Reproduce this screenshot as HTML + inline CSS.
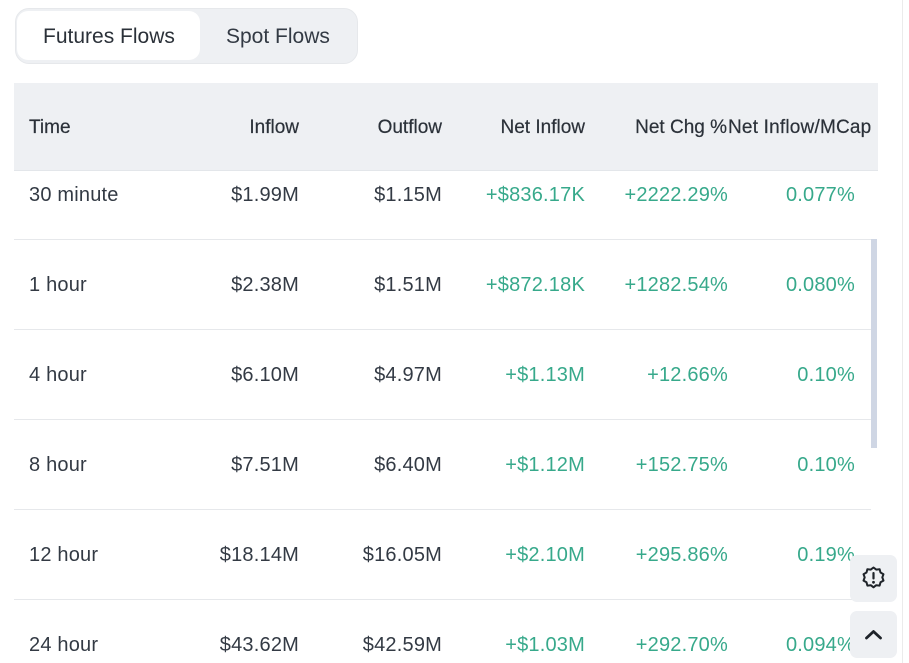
<!DOCTYPE html>
<html>
<head>
<meta charset="utf-8">
<style>
html,body{margin:0;padding:0;}
body{width:909px;height:663px;overflow:hidden;background:#fff;position:relative;font-family:"Liberation Sans",Arial,sans-serif;}
.abs{position:absolute;white-space:nowrap;}
.tabs{left:15px;top:8px;width:343px;height:56px;background:#eef0f3;border-radius:14px;box-sizing:border-box;border:1px solid #e6e8eb;}
.tab-on{left:17px;top:11px;width:183px;height:49px;background:#fff;border-radius:11px;}
.tabtxt{font-size:21px;color:#2b3139;line-height:24px;top:25px;}
.head{left:14px;top:83px;width:864px;height:88px;background:#eef0f3;border-bottom:1px solid #e3e6ea;box-sizing:border-box;}
.h{font-size:19px;color:#2b3139;line-height:22px;top:117px;-webkit-text-stroke:0.2px #2b3139;}
.sep{left:14px;width:857px;height:1px;background:#e6e8eb;}
.c{font-size:20px;line-height:24px;color:#333a44;letter-spacing:0.2px;}
.g{color:#37a98b;}
.vline{left:902px;top:0;width:1px;height:663px;background:#ebebeb;}
.sb{left:871px;top:239px;width:6px;height:209px;background:#cfd6e4;}
.btn{left:850px;width:47px;height:47px;background:#eef0f3;border-radius:7px;}
</style>
</head>
<body>
<div class="abs vline"></div>

<div class="abs tabs"></div>
<div class="abs tab-on"></div>
<div class="abs tabtxt" style="left:43px;">Futures Flows</div>
<div class="abs tabtxt" style="left:226px;color:#333a44;">Spot Flows</div>

<div class="abs head"></div>
<div class="abs h" style="left:29px;">Time</div>
<div class="abs h" style="right:610px;">Inflow</div>
<div class="abs h" style="right:467px;">Outflow</div>
<div class="abs h" style="right:324px;">Net Inflow</div>
<div class="abs h" style="right:182px;">Net Chg %</div>
<div class="abs h" style="left:728px;letter-spacing:0.2px;">Net Inflow/MCap</div>

<div class="abs sep" style="top:239px;"></div>
<div class="abs sep" style="top:329px;"></div>
<div class="abs sep" style="top:419px;"></div>
<div class="abs sep" style="top:509px;"></div>
<div class="abs sep" style="top:599px;"></div>

<div class="abs sb"></div>

<!-- row 1 -->
<div class="abs c" style="left:29px;top:183px;">30 minute</div>
<div class="abs c" style="right:610px;top:183px;">$1.99M</div>
<div class="abs c" style="right:467px;top:183px;">$1.15M</div>
<div class="abs c g" style="right:324px;top:183px;">+$836.17K</div>
<div class="abs c g" style="right:181px;top:183px;">+2222.29%</div>
<div class="abs c g" style="right:54px;top:183px;">0.077%</div>
<!-- row 2 -->
<div class="abs c" style="left:29px;top:273px;">1 hour</div>
<div class="abs c" style="right:610px;top:273px;">$2.38M</div>
<div class="abs c" style="right:467px;top:273px;">$1.51M</div>
<div class="abs c g" style="right:324px;top:273px;">+$872.18K</div>
<div class="abs c g" style="right:181px;top:273px;">+1282.54%</div>
<div class="abs c g" style="right:54px;top:273px;">0.080%</div>
<!-- row 3 -->
<div class="abs c" style="left:29px;top:363px;">4 hour</div>
<div class="abs c" style="right:610px;top:363px;">$6.10M</div>
<div class="abs c" style="right:467px;top:363px;">$4.97M</div>
<div class="abs c g" style="right:324px;top:363px;">+$1.13M</div>
<div class="abs c g" style="right:181px;top:363px;">+12.66%</div>
<div class="abs c g" style="right:54px;top:363px;">0.10%</div>
<!-- row 4 -->
<div class="abs c" style="left:29px;top:453px;">8 hour</div>
<div class="abs c" style="right:610px;top:453px;">$7.51M</div>
<div class="abs c" style="right:467px;top:453px;">$6.40M</div>
<div class="abs c g" style="right:324px;top:453px;">+$1.12M</div>
<div class="abs c g" style="right:181px;top:453px;">+152.75%</div>
<div class="abs c g" style="right:54px;top:453px;">0.10%</div>
<!-- row 5 -->
<div class="abs c" style="left:29px;top:543px;">12 hour</div>
<div class="abs c" style="right:610px;top:543px;">$18.14M</div>
<div class="abs c" style="right:467px;top:543px;">$16.05M</div>
<div class="abs c g" style="right:324px;top:543px;">+$2.10M</div>
<div class="abs c g" style="right:181px;top:543px;">+295.86%</div>
<div class="abs c g" style="right:54px;top:543px;">0.19%</div>
<!-- row 6 -->
<div class="abs c" style="left:29px;top:633px;">24 hour</div>
<div class="abs c" style="right:610px;top:633px;">$43.62M</div>
<div class="abs c" style="right:467px;top:633px;">$42.59M</div>
<div class="abs c g" style="right:324px;top:633px;">+$1.03M</div>
<div class="abs c g" style="right:181px;top:633px;">+292.70%</div>
<div class="abs c g" style="right:54px;top:633px;">0.094%</div>

<!-- floating buttons -->
<div class="abs btn" style="top:555px;">
<svg width="47" height="47" viewBox="0 0 47 47">
<path d="M23.5 12.5 L26.2 14.6 L29.6 14.2 L30.5 17.5 L33.5 19.2 L32.3 22.4 L33.5 25.6 L30.5 27.3 L29.6 30.6 L26.2 30.2 L23.5 32.3 L20.8 30.2 L17.4 30.6 L16.5 27.3 L13.5 25.6 L14.7 22.4 L13.5 19.2 L16.5 17.5 L17.4 14.2 L20.8 14.6 Z" fill="none" stroke="#1e2329" stroke-width="2" stroke-linejoin="round"/>
<rect x="22.4" y="17" width="2.2" height="7.5" rx="1" fill="#1e2329"/>
<circle cx="23.5" cy="27.3" r="1.4" fill="#1e2329"/>
</svg>
</div>
<div class="abs btn" style="top:611px;">
<svg width="47" height="47" viewBox="0 0 47 47">
<polyline points="16.5,27 23.5,20.5 30.5,27" fill="none" stroke="#1e2329" stroke-width="2.8" stroke-linecap="round" stroke-linejoin="round"/>
</svg>
</div>
</body>
</html>
